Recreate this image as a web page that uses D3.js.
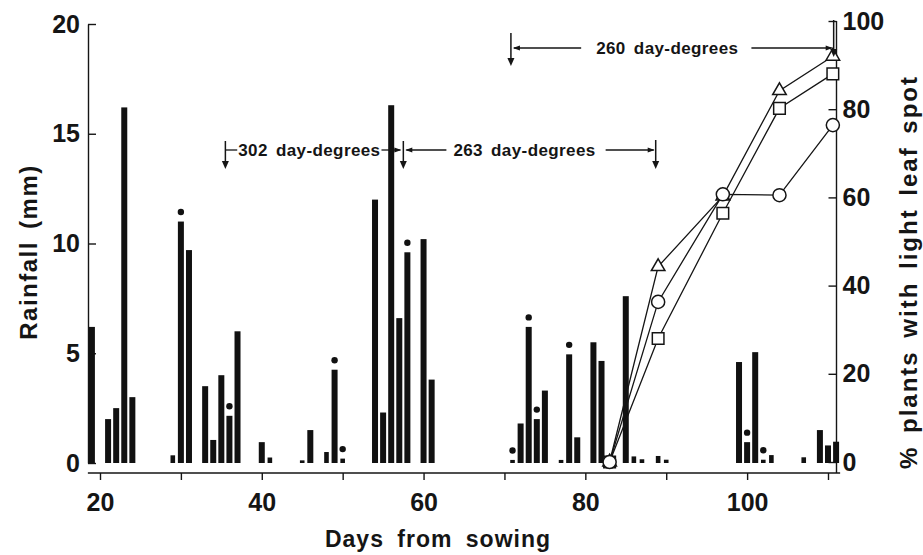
<!DOCTYPE html>
<html lang="en">
<head>
<meta charset="utf-8">
<title>Rainfall and light leaf spot</title>
<script src="https://cdn.jsdelivr.net/npm/d3@7"></script>
<style>
  body { margin: 0; background: #fff; }
  svg { display: block; }
  text { font-family: "Liberation Sans", Arial, sans-serif; font-weight: bold; fill: #151515; }
  .axis path, .axis line { stroke: #151515; stroke-width: 1.4; }
</style>
</head>
<body>
<div id="chart"></div>
<script>
// daily rainfall (mm) by day from sowing
var rainDays = [19, 21, 22, 23, 24, 29, 30, 31, 33, 34, 35, 36, 37, 40, 41, 45, 46, 48, 49, 50,
                54, 55, 56, 57, 58, 60, 61, 71, 72, 73, 74, 75, 77, 78, 79, 81, 82, 85, 86, 87,
                89, 90, 99, 100, 101, 102, 103, 107, 109, 110, 111];
var rainMm = [6.2, 2.0, 2.5, 16.2, 3.0, 0.35, 11.0, 9.7, 3.5, 1.05, 4.0, 2.15, 6.0, 0.95, 0.25, 0.12, 1.5, 0.5, 4.25, 0.2,
              12.0, 2.3, 16.3, 6.6, 9.6, 10.2, 3.8, 0.14, 1.8, 6.2, 2.0, 3.3, 0.14, 4.95, 1.17, 5.5, 4.65, 7.6, 0.3, 0.17,
              0.32, 0.15, 4.6, 0.95, 5.05, 0.15, 0.36, 0.26, 1.5, 0.8, 0.97];
// days marked with a dot above the bar
var dotDays = [30, 36, 49, 50, 58, 71, 73, 74, 78, 100, 102];

// disease assessments (% plants with light leaf spot)
var assessDays = [83, 89, 97, 104, 110.6];
var triangleSeries = [0, 44.3, 60.3, 84.2, 92];
var squareSeries = [0, 28, 56.4, 80.2, 88];
var circleSeries = [0, 36.3, 60.7, 60.5, 76.4];

// day-degree intervals
var spanLabels = ["302 day-degrees", "263 day-degrees", "260 day-degrees"];
var spanStart = [35.5, 57.5, 70.8];
var spanEnd = [57.5, 88.7, 110.7];

var xTicks = [20, 30, 40, 50, 60, 70, 80, 90, 100, 110];
var rainTicks = [0, 5, 10, 15, 20];
var pctTicks = [0, 20, 40, 60, 80, 100];

var W = 923, H = 555;
var svg = d3.select("#chart").append("svg").attr("width", W).attr("height", H);

var x = d3.scaleLinear().domain([20, 110]).range([100, 828]);
var yRain = d3.scaleLinear().domain([0, 20]).range([463, 24]);
var yPct = d3.scaleLinear().domain([0, 100]).range([462, 21]);
var axisY = 473, leftX = 88, rightX = 836.5;

// x axis
var gx = svg.append("g").attr("class", "axis").attr("transform", "translate(0," + axisY + ")")
  .call(d3.axisBottom(x).tickValues(xTicks).tickSizeInner(7).tickSizeOuter(0).tickPadding(13)
        .tickFormat(function(d) { return d % 20 === 0 && d <= 100 ? d : ""; }));
gx.select(".domain").remove();
gx.append("line").attr("x1", x(18.5)).attr("x2", x(111.5)).attr("stroke", "#151515").attr("stroke-width", 1.4);
gx.selectAll("text").style("font-size", "25px").attr("fill", null);

// left axis
var gl = svg.append("g").attr("class", "axis").attr("transform", "translate(" + leftX + ",0)")
  .call(d3.axisLeft(yRain).tickValues(rainTicks).tickSizeInner(-8).tickSizeOuter(0).tickPadding(8));
gl.selectAll("text").style("font-size", "25px").attr("fill", null);

// right axis
var gr = svg.append("g").attr("class", "axis").attr("transform", "translate(" + rightX + ",0)")
  .call(d3.axisRight(yPct).tickValues(pctTicks).tickSizeInner(-8).tickSizeOuter(0).tickPadding(6));
gr.select(".domain").attr("d", "M0," + yPct(100) + "V" + axisY);
gr.selectAll("text").style("font-size", "25px").attr("fill", null);
svg.selectAll(".axis text").attr("font-family", null).attr("font-size", null);

// axis titles
svg.append("text").attr("transform", "translate(37,252) rotate(-90)")
  .attr("text-anchor", "middle").style("font-size", "24px").style("letter-spacing", "1.5px").style("word-spacing", "4px")
  .text("Rainfall (mm)");
svg.append("text").attr("transform", "translate(917,272) rotate(-90)")
  .attr("text-anchor", "middle").style("font-size", "24px").style("letter-spacing", "2px").style("word-spacing", "4px")
  .text("% plants with light leaf spot");
svg.append("text").attr("x", 438).attr("y", 547)
  .attr("text-anchor", "middle").style("font-size", "23px").style("letter-spacing", "1px").style("word-spacing", "6px")
  .text("Days from sowing");

// rainfall bars
var bars = rainDays.map(function(d, i) { return {day: d, mm: rainMm[i]}; });
svg.selectAll(".bar").data(bars).enter().append("rect")
  .attr("class", "bar")
  .attr("x", function(d) { return x(d.day) - (d.mm < 0.6 ? 2.3 : 3); })
  .attr("width", function(d) { return d.mm < 0.6 ? 4.6 : 6; })
  .attr("y", function(d) { return yRain(d.mm); })
  .attr("height", function(d) { return yRain(0) - yRain(d.mm); })
  .attr("fill", "#111");

// dots above bars
svg.selectAll(".dot").data(bars.filter(function(d) { return dotDays.indexOf(d.day) >= 0; }))
  .enter().append("circle")
  .attr("cx", function(d) { return x(d.day); })
  .attr("cy", function(d) { return yRain(d.mm) - 9.5; })
  .attr("r", 3.2).attr("fill", "#111");

// disease progress lines
var series = [
  {vals: triangleSeries, shape: d3.symbolTriangle, size: 80},
  {vals: squareSeries, shape: d3.symbolSquare, size: 135},
  {vals: circleSeries, shape: d3.symbolCircle, size: 135}
];
var line = d3.line().x(function(d) { return x(d[0]); }).y(function(d) { return yPct(d[1]); });
series.forEach(function(s) {
  var pts = assessDays.map(function(d, i) { return [d, s.vals[i]]; });
  svg.append("path").attr("d", line(pts)).attr("fill", "none").attr("stroke", "#151515").attr("stroke-width", 1.3);
});
series.forEach(function(s) {
  var pts = assessDays.map(function(d, i) { return [d, s.vals[i]]; });
  svg.selectAll(null).data(pts).enter().append("path")
    .attr("transform", function(d) { return "translate(" + x(d[0]) + "," + yPct(d[1]) + ")"; })
    .attr("d", d3.symbol().type(s.shape).size(s.size))
    .attr("fill", "#fff").attr("stroke", "#151515").attr("stroke-width", 1.5);
});

// day-degree annotations
function hline(x1, x2, y) {
  svg.append("line").attr("x1", x1).attr("x2", x2).attr("y1", y).attr("y2", y)
    .attr("stroke", "#151515").attr("stroke-width", 1.3);
}
function vArrow(xp, y1, y2) {
  svg.append("line").attr("x1", xp).attr("x2", xp).attr("y1", y1).attr("y2", y2 - 6)
    .attr("stroke", "#151515").attr("stroke-width", 1.5);
  svg.append("path").attr("d", "M" + (xp - 3.5) + "," + (y2 - 8) + "L" + (xp + 3.5) + "," + (y2 - 8) + "L" + xp + "," + y2 + "Z")
    .attr("fill", "#151515");
}
function hHead(xp, y, dir) {
  svg.append("path").attr("d", "M" + xp + "," + y + "L" + (xp - dir * 7) + "," + (y - 2.5) + "L" + (xp - dir * 7) + "," + (y + 2.5) + "Z")
    .attr("fill", "#151515");
}
var rowY = [150, 150, 48];
var gaps = [[1, 1], [7, 10], [15, 13]];
spanLabels.forEach(function(lab, i) {
  var x1 = x(spanStart[i]), x2 = x(spanEnd[i]), y = rowY[i];
  var t = svg.append("text").attr("x", (x1 + x2) / 2 - 5).attr("y", y + 5.5)
    .attr("text-anchor", "middle").style("font-size", "17px").style("letter-spacing", "0.4px").style("word-spacing", "3px")
    .text(lab);
  var bb = t.node().getBBox();
  hline(x1 + (i === 0 ? 0 : 3), bb.x - gaps[i][0], y);
  hline(bb.x + bb.width + gaps[i][1], x2 - (i === 0 ? 3 : 2), y);
  if (i > 0) hHead(x1 + 2, y, -1);
  hHead(x2 - (i === 0 ? 2 : 1), y, 1);
});
vArrow(x(spanStart[0]), 141, 169);
vArrow(x(spanEnd[0]), 141, 169);
vArrow(x(spanEnd[1]), 140, 169);
vArrow(x(spanStart[2]), 33, 66);
vArrow(x(spanEnd[2]), 20, 57);
</script>
</body>
</html>
